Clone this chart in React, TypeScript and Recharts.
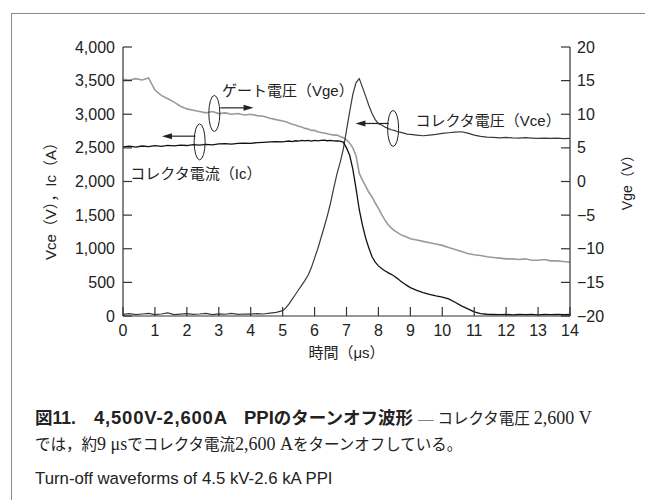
import React from 'react';
import { LineChart, Line, XAxis, YAxis, Label, ReferenceDot, ReferenceLine } from 'recharts';

// sample times (µs): coarse on the flat parts, 0.1 µs through the switching edge
const TIME = [
  0, 0.2, 0.4, 0.6, 0.8, 1, 1.2, 1.4, 1.6, 1.8, 2, 2.2, 2.4, 2.6, 2.8, 3, 3.2, 3.4, 3.6, 3.8, 4, 4.2, 4.4, 4.6, 4.8,
  5, 5.1, 5.2, 5.3, 5.4, 5.5, 5.6, 5.7, 5.8, 5.9, 6, 6.1, 6.2, 6.3, 6.4, 6.5, 6.6, 6.7, 6.8, 6.9,
  7, 7.1, 7.2, 7.3, 7.4, 7.5, 7.6, 7.7, 7.8, 7.9, 8, 8.1, 8.2, 8.3, 8.4, 8.5, 8.6, 8.7, 8.8, 8.9, 9,
  9.2, 9.4, 9.6, 9.8, 10, 10.2, 10.4, 10.6, 10.8, 11, 11.2, 11.4, 11.6, 11.8, 12, 12.2, 12.4, 12.6, 12.8, 13,
  13.2, 13.4, 13.6, 13.8, 14,
];

// collector voltage Vce (V)
const VCE = [
  25, 35, 20, 30, 40, 22, 30, 45, 20, 28, 35, 24, 30, 40, 22, 32, 26, 38, 24, 30, 28, 36, 30, 42, 55,
  80, 120, 180, 250, 320, 390, 460, 530, 610, 720, 860, 1000, 1160, 1320, 1490, 1680, 1900, 2110, 2280, 2480,
  2760, 3040, 3300, 3470, 3530, 3400, 3270, 3130, 3010, 2920, 2860, 2840, 2810, 2790, 2770, 2760, 2740, 2730, 2720, 2705, 2700,
  2690, 2680, 2690, 2700, 2715, 2725, 2735, 2740, 2720, 2690, 2670, 2660, 2655, 2650, 2655, 2648, 2645, 2652, 2645, 2640,
  2646, 2640, 2645, 2638, 2640,
];

// collector current Ic (A)
const IC = [
  2515, 2525, 2510, 2528, 2518, 2532, 2522, 2538, 2530, 2542, 2535, 2548, 2540, 2552, 2546, 2558, 2562, 2555, 2568, 2572, 2566, 2578, 2582, 2588, 2592,
  2590, 2596, 2602, 2594, 2606, 2600, 2610, 2604, 2612, 2600, 2610, 2605, 2612, 2615, 2606, 2612, 2605, 2602, 2600, 2585,
  2500, 2390, 2180, 1890, 1580, 1350, 1160, 1010, 880, 800, 745, 705, 672, 645, 620, 592, 556, 518, 482, 452, 422,
  380, 348, 322, 300, 282, 255, 205, 150, 105, 62, 36, 26, 22, 20, 24, 18, 22, 20, 25, 18,
  22, 20, 24, 19, 22,
];

// gate voltage Vge (V), right axis
const VGE = [
  15.2, 15.1, 15.3, 15.1, 15.4, 13.6, 12.8, 12.3, 11.8, 11.2, 10.8, 10.6, 10.4, 10.2, 10.4, 10.1, 10.2, 10.0, 10.1, 9.9, 10.0, 9.8, 9.7, 9.4, 9.2,
  9.0, 8.9, 8.7, 8.5, 8.4, 8.2, 8.1, 7.9, 7.8, 7.6, 7.6, 7.4, 7.3, 7.2, 7.1, 7.0, 6.9, 6.9, 6.7, 6.5,
  6.2, 5.7, 5.0, 3.8, 1.2, 0.2, -0.7, -1.6, -2.3, -3.2, -4.0, -4.9, -5.7, -6.4, -6.9, -7.3, -7.6, -7.9, -8.1, -8.3, -8.5,
  -8.7, -8.9, -9.1, -9.3, -9.5, -9.8, -10.1, -10.4, -10.7, -10.9, -11.0, -11.2, -11.3, -11.4, -11.5, -11.5, -11.6, -11.5, -11.7, -11.7,
  -11.6, -11.8, -11.8, -11.9, -12.0,
];

const X_TICKS = [0, 1, 2, 3, 4, 5, 6, 7, 8, 9, 10, 11, 12, 13, 14];
const LEFT_TICKS = [0, 500, 1000, 1500, 2000, 2500, 3000, 3500, 4000];
const RIGHT_TICKS = [-20, -15, -10, -5, 0, 5, 10, 15, 20];

const data = TIME.map((t, i) => ({ t, vce: VCE[i], ic: IC[i], vge: VGE[i] }));

// trace callouts, in (µs, left-axis volts/amps)
const CALLOUTS = [
  { text: 'ゲート電圧（Vge）', tx: 3.1, ty: 3360, ex: 2.86, ey: 3012, ax1: 3.05, ax2: 4.09, ay: 3095 },
  { text: 'コレクタ電流（Ic）', tx: 0.23, ty: 2119, ex: 2.4, ey: 2589, ax1: 2.27, ax2: 1.22, ay: 2674 },
  { text: 'コレクタ電圧（Vce）', tx: 9.16, ty: 2902, ex: 8.46, ey: 2789, ax1: 8.32, ax2: 7.28, ay: 2863 },
];

const SANS = "'Liberation Sans', Arial, 'Noto Sans CJK JP', sans-serif";
const SERIF = "'Liberation Serif', 'DejaVu Serif', 'Noto Sans CJK JP', serif";
const INK = '#222';
const AXIS = '#333';
const TICK_LEN = 9;

const fmtMinus = (v: number) => String(v).replace('-', '\u2212');

function LeftTick({ x, y, payload }: any) {
  return (
    <g>
      <line x1={x} y1={y} x2={x + TICK_LEN} y2={y} stroke={AXIS} strokeWidth={1.2} />
      <text x={x - 8} y={y + 5.5} textAnchor="end" fontSize={16} fill={INK} fontFamily={SANS}>
        {payload.value.toLocaleString('en-US')}
      </text>
    </g>
  );
}

function RightTick({ x, y, payload }: any) {
  return (
    <g>
      <line x1={x - TICK_LEN} y1={y} x2={x} y2={y} stroke={AXIS} strokeWidth={1.2} />
      <text x={x + 7} y={y + 5.5} textAnchor="start" fontSize={16} fill={INK} fontFamily={SANS}>
        {fmtMinus(payload.value)}
      </text>
    </g>
  );
}

function BottomTick({ x, y, payload }: any) {
  return (
    <g>
      <line x1={x} y1={y - TICK_LEN} x2={x} y2={y} stroke={AXIS} strokeWidth={1.2} />
      <text x={x} y={y + 20} textAnchor="middle" fontSize={16} fill={INK} fontFamily={SANS}>
        {payload.value}
      </text>
    </g>
  );
}

function Arrow({ x1, y1, x2, y2 }: any) {
  const dir = x2 > x1 ? 1 : -1;
  return (
    <g>
      <line x1={x1} y1={y1} x2={x2 - dir * 6} y2={y2} stroke={INK} strokeWidth={1.2} />
      <polygon points={`${x2},${y2} ${x2 - dir * 10},${y2 - 3} ${x2 - dir * 10},${y2 + 3}`} fill={INK} />
    </g>
  );
}

export default function App() {
  return (
    <div style={{ position: 'absolute', left: 0, top: 0, width: 645, height: 500, background: '#fff', overflow: 'hidden' }}>
      <div
        style={{
          position: 'absolute', left: 11, top: 13, right: 0, bottom: 0,
          borderTop: '1px solid #8a8a8a', borderLeft: '1px solid #8a8a8a',
        }}
      />
      <div style={{ position: 'absolute', left: 0, top: 0 }}>
        <LineChart width={645} height={370} data={data} margin={{ top: 47, right: 0, bottom: 0, left: 0 }}>
          <XAxis
            dataKey="t" type="number" domain={[0, 14]} ticks={X_TICKS} interval={0}
            height={54} tickSize={0} tickMargin={0} tickLine={false} tick={<BottomTick />}
            axisLine={{ stroke: AXIS, strokeWidth: 1.2 }}
          >
            <Label
              content={({ viewBox }: any) => (
                <text x={viewBox.x + viewBox.width / 2} y={viewBox.y + 42} textAnchor="middle"
                  fontSize={15} fill={INK} fontFamily={SANS}>時間（μs）</text>
              )}
            />
          </XAxis>
          <YAxis
            yAxisId="left" domain={[0, 4000]} ticks={LEFT_TICKS} interval={0} width={123}
            tickSize={0} tickMargin={0} tickLine={false} tick={<LeftTick />}
            axisLine={{ stroke: AXIS, strokeWidth: 1.2 }}
          >
            <Label
              content={({ viewBox }: any) => (
                <text transform={`translate(${viewBox.x + 56}, ${viewBox.y + viewBox.height / 2 + 16}) rotate(-90)`}
                  textAnchor="middle" fontSize={15} fill={INK} fontFamily={SANS}>Vce（V），Ic（A）</text>
              )}
            />
          </YAxis>
          <YAxis
            yAxisId="right" orientation="right" domain={[-20, 20]} ticks={RIGHT_TICKS} interval={0} width={75}
            tickSize={0} tickMargin={0} tickLine={false} tick={<RightTick />}
            axisLine={{ stroke: AXIS, strokeWidth: 1.2 }}
          >
            <Label
              content={({ viewBox }: any) => (
                <text transform={`translate(${viewBox.x + 62}, ${viewBox.y + 132}) rotate(-90)`}
                  textAnchor="middle" fontSize={14} fill={INK} fontFamily={SANS}>Vge（V）</text>
              )}
            />
          </YAxis>

          <Line yAxisId="right" dataKey="vge" type="linear" stroke="#9a9a9a" strokeWidth={1.6} dot={false} isAnimationActive={false} />
          <Line yAxisId="left" dataKey="vce" type="linear" stroke="#3a3a3a" strokeWidth={1.2} dot={false} isAnimationActive={false} />
          <Line yAxisId="left" dataKey="ic" type="linear" stroke="#111" strokeWidth={1.3} dot={false} isAnimationActive={false} />

          {CALLOUTS.map((c) => (
            <ReferenceDot key={`e-${c.text}`} yAxisId="left" x={c.ex} y={c.ey} r={0}
              shape={(p: any) => <ellipse cx={p.cx} cy={p.cy} rx={5.5} ry={18} fill="none" stroke={INK} strokeWidth={1} />} />
          ))}
          {CALLOUTS.map((c) => (
            <ReferenceLine key={`a-${c.text}`} yAxisId="left"
              segment={[{ x: c.ax1, y: c.ay }, { x: c.ax2, y: c.ay }]} shape={(p: any) => <Arrow {...p} />} />
          ))}
          {CALLOUTS.map((c) => (
            <ReferenceDot key={`t-${c.text}`} yAxisId="left" x={c.tx} y={c.ty} r={0}
              shape={(p: any) => (
                <text x={p.cx} y={p.cy + 5.5} textAnchor="start" fontSize={15} fill={INK} fontFamily={SANS}>{c.text}</text>
              )} />
          ))}
        </LineChart>
      </div>

      <svg width={645} height={130} style={{ position: 'absolute', left: 0, top: 370 }}>
        <g fill={INK} style={{ whiteSpace: 'pre' }}>
          <text x={35} y={54} fontFamily={SANS} fontWeight="bold" fontSize={17.5}>図11.</text>
          <text x={94} y={54} fontFamily={SANS} fontWeight="bold" fontSize={18.5} letterSpacing={0.8}>4,500V-2,600A</text>
          <text x={244} y={54} fontFamily={SANS} fontWeight="bold" fontSize={17.5}>
            <tspan fontSize={18.5}>PPI</tspan>のターンオフ波形
          </text>
          <text x={418} y={54} fontFamily={SERIF} fontSize={15.5}>
            — コレクタ電圧 <tspan fontSize={18}>2,600 V</tspan>
          </text>
          <text x={35} y={79.5} fontFamily={SERIF} fontSize={15.5}>
            では，約<tspan fontSize={18}>9 μs</tspan>でコレクタ電流<tspan fontSize={18}>2,600 A</tspan>をターンオフしている。
          </text>
          <text x={35} y={114} fontFamily={SANS} fontSize={16.8}>Turn-off waveforms of 4.5 kV-2.6 kA PPI</text>
        </g>
      </svg>
    </div>
  );
}
